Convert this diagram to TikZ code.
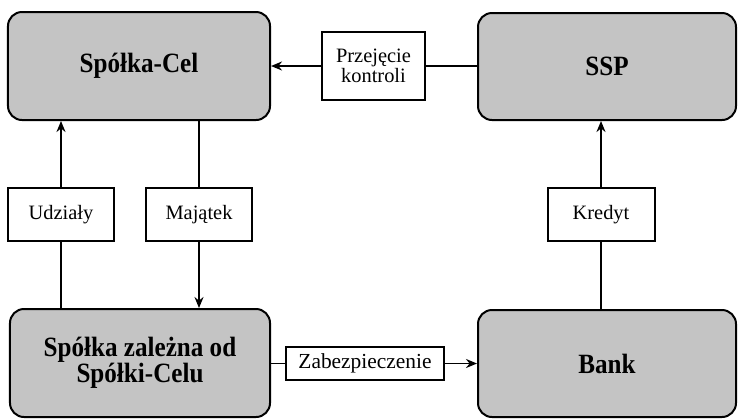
\documentclass[tikz,border=0pt]{standalone}
\usepackage{fontspec}
\setmainfont{Liberation Serif}
\newfontfamily\narrowserif{Liberation Serif}[FakeStretch=0.9]
\usetikzlibrary{arrows.meta}
\definecolor{boxgray}{RGB}{196,196,196}
\tikzset{
  bigbox/.style={draw=black, line width=2bp, fill=boxgray, rounded corners=14bp, inner sep=0pt, align=center, font=\narrowserif\fontsize{28}{22.5}\selectfont\bfseries},
  labbox/.style={draw=black, line width=2bp, fill=white, inner sep=0pt, align=center, font=\fontsize{20.5}{20}\selectfont},
  conn/.style={line width=1.8bp},
  arr/.style={conn, -{Stealth[length=11bp,width=9bp]}}
}
\begin{document}
\begin{tikzpicture}[x=1bp,y=-1bp]
\useasboundingbox (0,0) rectangle (738,418);
\node[bigbox, minimum width=262bp, minimum height=108bp] (cel) at (139,66) {Spółka-Cel};
\node[bigbox, minimum width=258bp, minimum height=107bp] (ssp) at (607,66.5) {SSP};
\node[bigbox, minimum width=260bp, minimum height=108bp] (zal) at (140,363) {Spółka zależna od\\Spółki-Celu};
\node[bigbox, minimum width=258bp, minimum height=107bp] (bank) at (607,363.5) {Bank};
\node[labbox, minimum width=103bp, minimum height=68bp] (prz) at (373.5,66) {Przejęcie\\kontroli};
\node[labbox, minimum width=106bp, minimum height=53bp] (udz) at (61,214.5) {Udziały};
\node[labbox, minimum width=106bp, minimum height=53bp] (maj) at (199,214.5) {Majątek};
\node[labbox, minimum width=107bp, minimum height=53bp] (kred) at (601,214.5) {Kredyt};
\node[labbox, minimum width=158bp, minimum height=33bp, font=\fontsize{21.5}{22}\selectfont] (zab) at (365,363.5) {Zabezpieczenie};
% connectors
\draw[conn] (ssp.west |- prz) -- (prz.east);
\draw[arr] (prz.west) -- (cel.east |- prz);
\draw[conn] (zal.north -| udz) -- (udz.south);
\draw[arr] (udz.north) -- (cel.south -| udz);
\draw[conn] (cel.south -| maj) -- (maj.north);
\draw[arr] (maj.south) -- (zal.north -| maj);
\draw[conn] (bank.north -| kred) -- (kred.south);
\draw[arr] (kred.north) -- (ssp.south -| kred);
\draw[conn] (zal.east |- zab) -- (zab.west);
\draw[arr] (zab.east) -- (bank.west |- zab);
\end{tikzpicture}
\end{document}
